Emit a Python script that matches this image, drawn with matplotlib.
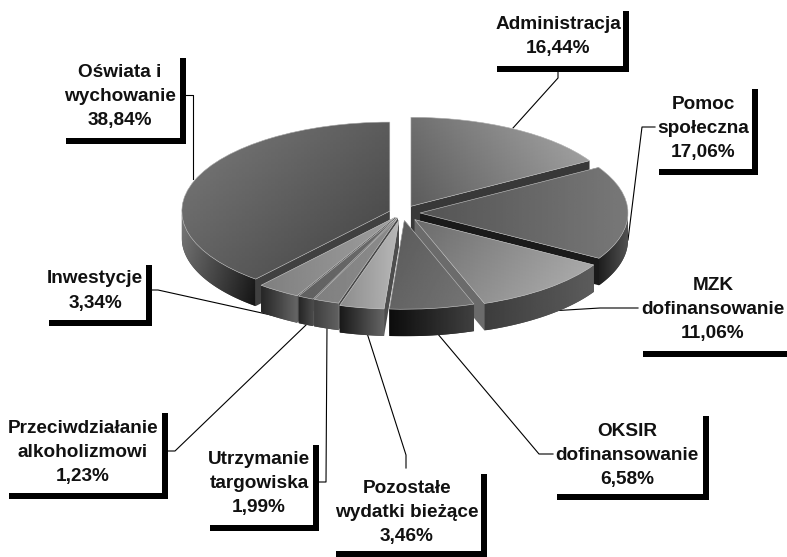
import numpy as np
import matplotlib
matplotlib.use("Agg")
import matplotlib.pyplot as plt
from matplotlib.patches import Polygon, Rectangle, Wedge

names = ["Administracja", "Pomoc\nspołeczna", "MZK\ndofinansowanie", "OKSIR\ndofinansowanie",
         "Pozostałe\nwydatki bieżące", "Utrzymanie\ntargowiska", "Przeciwdziałanie\nalkoholizmowi",
         "Inwestycje", "Oświata i\nwychowanie"]
values = [16.44, 17.06, 11.06, 6.58, 3.46, 1.99, 1.23, 3.34, 38.84]
explode = [18, 18, 20, 17, 17, 12, 12, 12, 13]

# look of each slice: top (from, to, direction), rim (from, to, direction), cut face
top_style = [(0.36, 0.66, 20), (0.33, 0.47, 0), (0.42, 0.70, -20), (0.35, 0.46, -30), (0.55, 0.72, 0),
             (0.50, 0.55, 0), (0.38, 0.42, 0), (0.50, 0.62, 0), (0.48, 0.26, -40)]
rim_style = [(0.2, 0.3, 0), (0.12, 0.32, 0), (0.24, 0.36, 0), (0.05, 0.25, 0), (0.10, 0.40, 0),
             (0.25, 0.38, 0), (0.15, 0.30, 0), (0.15, 0.40, 0), (0.47, 0.08, -20)]
face_gray = [0.22, 0.10, 0.42, 0.35, 0.30, 0.28, 0.30, 0.30, 0.25]

# label boxes in pixels: left, top, right, bottom of the black corner
boxes = [(497, 11, 629, 72), (659, 89, 758, 175), (643, 270, 793, 357), (557, 416, 709, 500),
         (336, 474, 487, 557), (210, 445, 319, 531), (9, 413, 168, 499), (49, 265, 152, 326),
         (66, 58, 186, 144)]
text_pos = [(558, 36.5), (703, 128.5), (713, 309.5), (627, 455.5), (407, 512.5), (259, 483.5), (83, 452.5),
            (95, 291), (120, 96.5)]
leaders = [[(558, 72), (558, 78), (513, 128)],
           [(655, 127), (642, 127), (628, 240)],
           [(638, 308), (600, 308), (550, 311)],
           [(553, 454), (539, 454), (437, 333)],
           [(406, 468), (406, 455), (367, 333)],
           [(319, 482), (326, 482), (327, 325)],
           [(168, 451), (175, 451), (306, 325)],
           [(152, 290), (158, 290), (280, 317)],
           [(186, 95), (193, 95), (193, 179)]]

W, H = 787, 557
SQUASH = 0.428
DEPTH = 27 / SQUASH
BAR = 6


def shade(ax, patch, style, z):
    # linear gray gradient clipped to a patch
    c0, c1, angle = style
    box = patch.get_path().get_extents(patch.get_patch_transform())
    xx, yy = np.meshgrid(np.linspace(0, 1, 64), np.linspace(0, 1, 64))
    a = np.radians(angle)
    u = np.cos(a) * xx + np.sin(a) * yy
    u = (u - u.min()) / (u.max() - u.min())
    im = ax.imshow(c0 + (c1 - c0) * u, cmap="gray", vmin=0, vmax=1, origin="lower", aspect="auto",
                   extent=(box.x0, box.x1, box.y0, box.y1), interpolation="bilinear", zorder=z)
    im.set_clip_path(patch)


fig = plt.figure(figsize=(W / 100, H / 100), dpi=100)
lab = fig.add_axes([0, 0, 1, 1], zorder=1)
lab.set_xlim(0, W)
lab.set_ylim(H, 0)
lab.axis("off")

for pts in leaders:
    lab.plot([p[0] for p in pts], [p[1] for p in pts], color="black", lw=0.8)

for name, val, (l, t, r, b), (tx, ty) in zip(names, values, boxes, text_pos):
    lab.add_patch(Rectangle((l, b - BAR), r - l, BAR, color="black", lw=0))
    lab.add_patch(Rectangle((r - BAR, t), BAR, b - t, color="black", lw=0))
    txt = name + "\n" + f"{val:.2f}".replace(".", ",") + "%"
    lab.text(tx, ty, txt, ha="center", va="center", family="Liberation Sans", weight="bold",
             fontsize=13.7, linespacing=1.56, color="#111111")

ax = fig.add_axes([0, 0, 1, 1], zorder=2)
ax.patch.set_visible(False)
wedges, _ = ax.pie(values, startangle=90, counterclock=False, explode=explode, radius=208,
                   center=(402, (H - 213) / SQUASH), frame=False,
                   wedgeprops={"edgecolor": "none"})
ax.set_aspect("auto")

# paint from the back of the pie to the front
mids = [(w.theta1 + w.theta2) / 2 for w in wedges]
order = np.argsort([-np.cos(np.radians(m - 90)) for m in mids])
for rank, i in enumerate(order):
    w = wedges[i]
    z = 10 + rank * 10
    cx, cy = w.center
    for th in (w.theta1, w.theta2):
        ex = cx + w.r * np.cos(np.radians(th))
        ey = cy + w.r * np.sin(np.radians(th))
        ax.add_patch(Polygon([(cx, cy), (ex, ey), (ex, ey - DEPTH), (cx, cy - DEPTH)],
                             color=str(face_gray[i]), lw=0, zorder=z))
    th = np.linspace(w.theta1, w.theta2, 240)
    th = th[np.sin(np.radians(th)) <= 0]
    if len(th) > 1:
        rx = cx + w.r * np.cos(np.radians(th))
        ry = cy + w.r * np.sin(np.radians(th))
        pts = np.r_[np.c_[rx, ry], np.c_[rx, ry - DEPTH][::-1]]
        rim = Polygon(pts, color=str(np.mean(rim_style[i][:2])), lw=0, zorder=z + 1)
        ax.add_patch(rim)
        shade(ax, rim, rim_style[i], z + 2)
    w.set_facecolor(str(np.mean(top_style[i][:2])))
    w.set_zorder(z + 3)
    shade(ax, w, top_style[i], z + 4)
    ax.add_patch(Wedge(w.center, w.r, w.theta1, w.theta2, fill=False, ec="#c4c4c4", lw=0.4, zorder=z + 5))

ax.set_xlim(0, W)
ax.set_ylim(0, H / SQUASH)
fig.savefig("out.png", dpi=100)
